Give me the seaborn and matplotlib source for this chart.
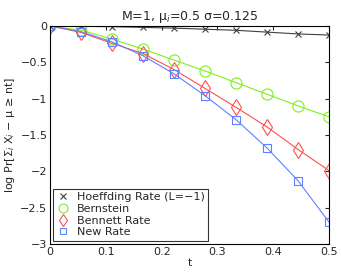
import numpy as np
import pandas as pd
import matplotlib
matplotlib.use("Agg")
import matplotlib.pyplot as plt
import seaborn as sns

# values
t = [0, 0.0556, 0.1111, 0.1667, 0.2222, 0.2778, 0.3333, 0.3889, 0.4444, 0.5]
hoeffding = [0, -0.005, -0.01, -0.02, -0.03, -0.045, -0.06, -0.085, -0.11, -0.125]
bernstein = [0, -0.06, -0.18, -0.32, -0.47, -0.62, -0.78, -0.94, -1.10, -1.25]
bennett = [0, -0.09, -0.24, -0.38, -0.60, -0.86, -1.12, -1.39, -1.70, -1.99]
new_rate = [0, -0.08, -0.22, -0.41, -0.66, -0.96, -1.29, -1.68, -2.13, -2.70]

labels = ["Hoeffding Rate (L=\u22121)", "Bernstein", "Bennett Rate", "New Rate"]
series = [hoeffding, bernstein, bennett, new_rate]
colors = ["#404040", "#80ee20", "#ff5050", "#6080ff"]
markers = ["x", "o", "d", "s"]
msizes = [5, 8, 8, 6]

df = pd.concat([pd.DataFrame({"t": t, "val": s, "method": lab}) for s, lab in zip(series, labels)])

sns.set_style("white")
plt.rcParams["font.family"] = ["DejaVu Sans"]
fig = plt.figure(figsize=(3.41, 2.76), dpi=100)
ax = fig.add_axes([0.147, 0.116, 0.818, 0.79])

for lab, c, m, ms in zip(labels, colors, markers, msizes):
    sub = df[df["method"] == lab]
    sns.lineplot(data=sub, x="t", y="val", ax=ax, color=c, linewidth=0.8,
                 marker=m, markersize=ms, markerfacecolor="none",
                 markeredgecolor=c, markeredgewidth=0.8, label=lab)

ax.set_xlim(0, 0.5)
ax.set_ylim(-3, 0)
ax.set_xticks([0, 0.1, 0.2, 0.3, 0.4, 0.5])
ax.set_xticklabels(["0", "0.1", "0.2", "0.3", "0.4", "0.5"])
ax.set_yticks([-3, -2.5, -2, -1.5, -1, -0.5, 0])
ax.set_yticklabels(["\u22123", "\u22122.5", "\u22122", "\u22121.5", "\u22121", "\u22120.5", "0"])
ax.tick_params(direction="in", length=3, labelsize=8, top=True, right=True, pad=2)
for sp in ax.spines.values():
    sp.set_color("black")
    sp.set_linewidth(0.8)

ax.set_xlabel("t", fontsize=8, labelpad=1)
ax.set_ylabel("log Pr[$\\Sigma_i$ X$_i$ \u2212 \u03bc \u2265 nt]", fontsize=8, labelpad=2)
ax.set_title("M=1, \u03bc$_i$=0.5 \u03c3=0.125", fontsize=9, pad=4)

leg = ax.legend(loc="lower left", fontsize=8, frameon=True, fancybox=False,
                borderaxespad=0.3, handlelength=1.2, handletextpad=0.6,
                labelspacing=0.15, borderpad=0.3, markerscale=0.8)
leg.get_frame().set_edgecolor("black")
leg.get_frame().set_linewidth(0.8)
for h in leg.get_lines():
    h.set_linestyle("none")

fig.savefig("out.png", dpi=100)
